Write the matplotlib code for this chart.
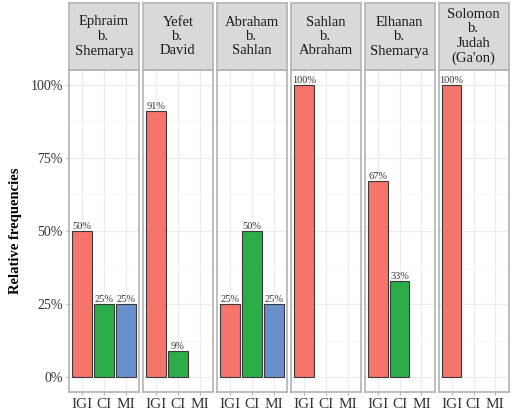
import matplotlib
matplotlib.use("Agg")
import matplotlib.pyplot as plt
import numpy as np
from matplotlib.ticker import FixedLocator

plt.rcParams["font.family"] = ["Liberation Serif", "DejaVu Serif"]

# data
authors = [
    "Ephraim\nb.\nShemarya",
    "Yefet\nb.\nDavid",
    "Abraham\nb.\nSahlan",
    "Sahlan\nb.\nAbraham",
    "Elhanan\nb.\nShemarya",
    "Solomon\nb.\nJudah\n(Ga'on)",
]
categories = ["IGI", "CI", "MI"]
igi = [50, 91, 25, 100, 67, 100]
ci = [25, 9, 50, 0, 33, 0]
mi = [25, 0, 25, 0, 0, 0]
colors = ["#F5756B", "#2BAE4A", "#6A90CC"]

W, H = 513, 415
fig = plt.figure(figsize=(W / 100, H / 100), dpi=100)

panel_left = 69
pitch = 73.9
panel_w = 70
panel_top = 70
panel_bot = 392
strip_top = 3

for i, name in enumerate(authors):
    x0 = panel_left + i * pitch
    ax = fig.add_axes([x0 / W, 1 - panel_bot / H, panel_w / W, (panel_bot - panel_top) / H])
    vals = [igi[i], ci[i], mi[i]]
    xs = np.arange(1, 4)
    for xi, v, c in zip(xs, vals, colors):
        if v > 0:
            ax.bar(xi, v / 100, width=0.9, color=c, edgecolor="#3a3a3a", linewidth=0.8, zorder=3)
            ax.text(xi, v / 100, f"{v}%", ha="center", va="bottom", fontsize=7.5,
                    color="#333333", zorder=4)
    ax.set_xlim(0.4, 3.6)
    ax.set_ylim(-0.05, 1.05)
    ax.set_xticks(xs)
    ax.set_xticklabels(categories, fontsize=11, color="#333333")
    ax.yaxis.set_major_locator(FixedLocator([0, 0.25, 0.5, 0.75, 1.0]))
    ax.yaxis.set_minor_locator(FixedLocator([0.125, 0.375, 0.625, 0.875]))
    ax.grid(True, which="major", color="#ebebeb", linewidth=0.8, zorder=0)
    ax.grid(True, which="minor", axis="y", color="#f3f3f3", linewidth=0.5, zorder=0)
    ax.tick_params(axis="both", which="major", length=2.5, color="#b3b3b3", pad=2)
    ax.tick_params(axis="y", which="minor", length=0)
    if i == 0:
        ax.set_yticklabels(["0%", "25%", "50%", "75%", "100%"], fontsize=10, color="#333333")
        ax.set_ylabel("Relative frequencies", fontsize=10.5, fontweight="bold", labelpad=6)
    else:
        ax.tick_params(axis="y", labelleft=False, length=0)
    for s in ax.spines.values():
        s.set_color("#b3b3b3")
        s.set_linewidth(1.2)

    sx = fig.add_axes([x0 / W, 1 - panel_top / H, panel_w / W, (panel_top - strip_top) / H])
    sx.set_facecolor("#d9d9d9")
    sx.set_xticks([])
    sx.set_yticks([])
    for s in sx.spines.values():
        s.set_color("#b3b3b3")
        s.set_linewidth(1.2)
    sx.text(0.5, 0.5, name, ha="center", va="center", fontsize=10.5,
            linespacing=1.15, color="#1a1a1a", transform=sx.transAxes)

fig.savefig("out.png", dpi=100)
